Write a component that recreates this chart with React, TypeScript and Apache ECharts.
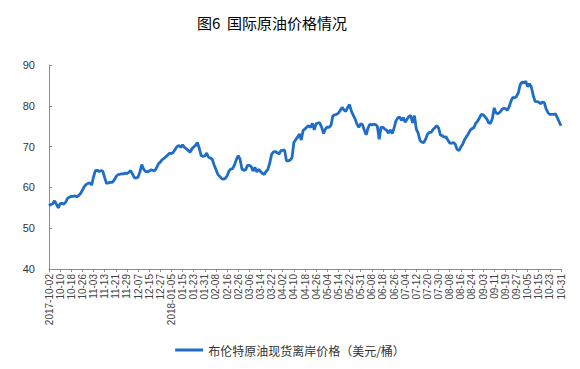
import React, { useEffect, useRef } from "react";
import * as echarts from "echarts";

// Trading days (Brent spot) between these dates, minus market holidays
const firstDay = "2017-10-02";
const lastDay = "2018-10-31";
const holidays = ["2017-12-25", "2017-12-26", "2018-01-01", "2018-03-30", "2018-05-28", "2018-08-06"];

const seriesName = "布伦特原油现货离岸价格（美元/桶）";
const titleText = "图6  国际原油价格情况";
const yTicks = [40, 50, 60, 70, 80, 90];

// Brent spot FOB price (USD/barrel), one value per trading day
const brent = [
  55.5, 55.8, 56.0, 56.7, 55.9, 55.0,
  56.0, 56.1, 55.9, 56.4, 57.3, 57.6,
  57.8, 57.8, 57.9, 57.7, 58.0, 58.5,
  59.3, 60.2, 60.7, 61.0, 61.1, 60.6,
  62.6, 64.1, 64.2, 63.9, 64.1, 64.0,
  62.4, 61.0, 61.1, 61.3, 61.2, 61.7,
  62.5, 63.1, 63.2, 63.3, 63.3, 63.5,
  63.4, 63.7, 64.1, 63.3, 62.4, 62.3,
  62.5, 63.8, 65.6, 64.5, 63.9, 63.8,
  64.0, 64.3, 64.2, 64.1, 64.8, 65.8,
  66.2, 66.8, 67.1, 67.5, 67.9, 68.4,
  68.3, 68.6, 69.3, 70.0, 70.3, 69.8,
  70.4, 69.8, 69.5, 69.1, 68.6, 69.4,
  69.9, 70.3, 71.0, 69.6, 67.8, 67.6,
  67.7, 68.4, 67.4, 67.2, 66.9, 65.5,
  64.4, 63.2, 62.7, 62.2, 62.0, 62.2,
  62.8, 64.0, 64.5, 64.6, 65.5, 66.8,
  67.8, 66.9, 64.5, 64.2, 64.3, 65.4,
  65.4, 65.1, 64.0, 64.9, 63.8, 64.4,
  63.9, 63.4, 63.2, 63.9, 64.4, 66.0,
  68.1, 68.7, 68.8, 68.5, 68.2, 69.0,
  69.1, 69.1, 66.5, 66.5, 66.7, 67.3,
  71.0, 71.7, 72.3, 73.1, 71.6, 74.0,
  74.3, 74.8, 75.1, 74.7, 75.7, 74.1,
  75.6, 75.8, 75.8, 74.7, 73.2, 74.3,
  74.8, 74.7, 75.2, 77.5, 77.8, 77.9,
  78.2, 78.9, 79.6, 79.0, 78.6, 79.6,
  80.3, 78.7, 77.7, 76.8, 75.5, 74.7,
  75.6, 75.4, 74.0, 72.9, 74.6, 75.5,
  75.3, 75.5, 75.4, 75.0, 71.8, 74.8,
  74.7, 74.3, 74.0, 73.3, 74.1, 73.2,
  74.5, 76.3, 77.0, 77.3, 76.4, 77.1,
  76.0, 76.7, 77.4, 77.6, 75.8, 77.6,
  74.3, 73.3, 71.5, 71.1, 71.0, 71.8,
  73.0, 73.5, 73.5, 74.2, 74.6, 75.1,
  74.6, 72.8, 72.7, 72.3, 72.4, 71.6,
  70.9, 70.8, 71.0, 70.6, 69.3, 69.0,
  69.9, 70.6, 71.7, 72.4, 73.1, 74.0,
  74.4, 74.6, 75.7, 76.2, 77.0, 77.9,
  77.8, 77.3, 76.8, 75.8, 75.7, 76.9,
  79.5, 78.2, 78.1, 78.4, 79.0, 79.4,
  79.3, 78.9, 79.7, 81.1, 82.1, 81.9,
  82.3, 83.2, 85.2, 85.8, 85.6, 86.0,
  84.7, 85.4, 84.6, 82.6, 81.1, 81.0,
  80.9, 80.5, 80.9, 80.8, 79.2, 78.3,
  77.9, 77.9, 77.9, 78.0, 77.1, 76.1,
  75.1,
];

function tradingDays(): string[] {
  const out: string[] = [];
  const d = new Date(firstDay + "T00:00:00Z");
  const end = new Date(lastDay + "T00:00:00Z").getTime();
  while (d.getTime() <= end) {
    const wd = d.getUTCDay();
    const s = d.toISOString().slice(0, 10);
    if (wd !== 0 && wd !== 6 && holidays.indexOf(s) < 0) out.push(s);
    d.setUTCDate(d.getUTCDate() + 1);
  }
  return out;
}

const categories = tradingDays();
const labelStep = 6;

const FONT = "'Liberation Sans', 'Noto Sans CJK SC', sans-serif";

export default function App() {
  const ref = useRef<HTMLDivElement>(null);
  useEffect(() => {
    if (!ref.current) return;
    const chart = echarts.init(ref.current, undefined, { renderer: "svg" });
    chart.setOption({
      animation: false,
      backgroundColor: "#ffffff",
      textStyle: { fontFamily: FONT },
      title: {
        text: titleText,
        left: 197,
        top: 15,
        padding: 0,
        textStyle: { fontSize: 15, fontWeight: "normal", color: "#000", fontFamily: "'Noto Sans CJK SC', sans-serif" },
      },
      grid: { left: 49, right: 19, top: 65, bottom: 100, containLabel: false, outerBoundsMode: "none" },
      legend: {
        left: "center",
        top: 339,
        icon: "rect",
        itemWidth: 28,
        itemHeight: 3,
        itemGap: 10,
        textStyle: { fontSize: 12, color: "#333", fontFamily: "'Noto Sans CJK SC', sans-serif" },
        data: [seriesName],
      },
      xAxis: {
        type: "category",
        data: categories,
        boundaryGap: false,
        axisLine: { lineStyle: { color: "#8c8c8c", width: 1 } },
        axisTick: { show: true, interval: labelStep - 1, length: 3, lineStyle: { color: "#8c8c8c" } },
        axisLabel: {
          interval: labelStep - 1,
          rotate: 90,
          margin: 5,
          fontSize: 10,
          color: "#444",
          fontFamily: FONT,
          formatter: (value: string, index: number) => {
            if (index === 0) return value;
            const prev = categories[index - labelStep];
            if (prev && prev.slice(0, 4) !== value.slice(0, 4)) return value;
            return value.slice(5);
          },
        },
        splitLine: { show: false },
      },
      yAxis: {
        type: "value",
        min: yTicks[0],
        max: yTicks[yTicks.length - 1],
        interval: 10,
        axisLine: { show: true, lineStyle: { color: "#8c8c8c", width: 1 } },
        axisTick: { show: true, inside: true, length: 3, lineStyle: { color: "#8c8c8c" } },
        axisLabel: { fontSize: 11, color: "#333", margin: 14, fontFamily: FONT },
        splitLine: { show: false },
      },
      series: [
        {
          name: seriesName,
          type: "line",
          data: brent,
          showSymbol: false,
          symbol: "none",
          lineStyle: { color: "#1f6dc6", width: 2.8 },
          itemStyle: { color: "#1f6dc6" },
        },
      ],
    });
    return () => chart.dispose();
  }, []);
  return (
    <div
      ref={ref}
      style={{ position: "fixed", left: 0, top: 0, width: 580, height: 369, background: "#fff" }}
    />
  );
}
